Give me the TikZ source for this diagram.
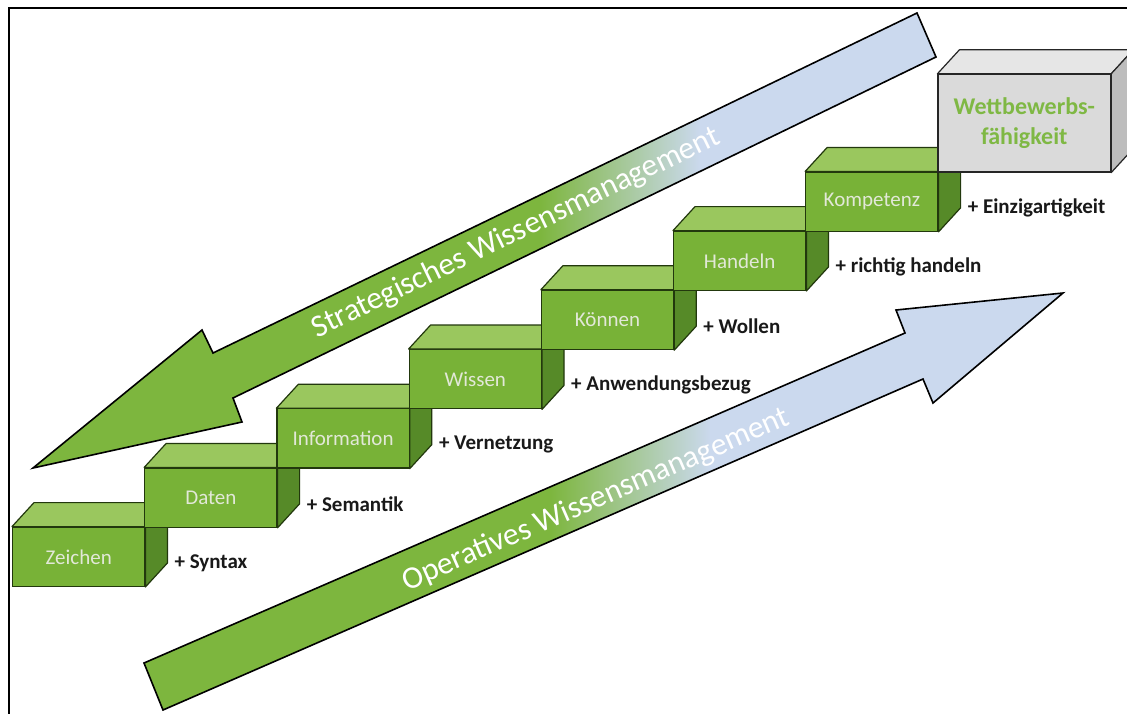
\documentclass[tikz,border=0pt]{standalone}
\usepackage{fontspec}
\setmainfont{Carlito}
\definecolor{frontgreen}{HTML}{78B237}
\definecolor{topgreen}{HTML}{9AC75E}
\definecolor{sidegreen}{HTML}{568A28}
\definecolor{edgegreen}{HTML}{22380D}
\definecolor{arrowgreen}{HTML}{7DB63E}
\definecolor{arrowblue}{HTML}{CBD9EE}
\definecolor{grayfront}{HTML}{DADADA}
\definecolor{graytop}{HTML}{E6E6E6}
\definecolor{grayside}{HTML}{BDBDBD}
\definecolor{steptext}{HTML}{E2E8D8}
\definecolor{goaltext}{HTML}{7FB844}
\begin{document}
\begin{tikzpicture}[x=1pt,y=-1pt,
  stepface/.style={draw=edgegreen,line width=1.2pt,fill=frontgreen,anchor=south west,
    minimum width=132.2,minimum height=59.2,inner sep=0pt,
    font=\fontsize{21}{25}\selectfont,text=steptext},
  steptop/.style={draw=edgegreen,line width=1.2pt,fill=topgreen,line join=round},
  stepside/.style={draw=edgegreen,line width=1.2pt,fill=sidegreen,line join=round},
  steplabel/.style={anchor=west,inner sep=0pt,font=\bfseries\fontsize{21}{25}\selectfont,text=black!90},
  arrowline/.style={draw=black,line width=1.6pt,line join=miter},
  arrowtext/.style={text=white,font=\fontsize{31.5}{36}\selectfont,inner sep=0pt}]
\useasboundingbox (0,0) rectangle (1127,713);
\clip (0,0) rectangle (1127,713);
\fill[white] (0,0) rectangle (1127,713);
\draw[line width=2pt] (9,8) rectangle (1140,730);

% strategic knowledge management: arrow pointing down-left
\coordinate (s1) at (917,13);
\coordinate (s2) at (936,57);
\coordinate (s3) at (233,398);
\coordinate (s4) at (242,422);
\coordinate (s5) at (33,468);
\coordinate (s6) at (202,330);
\coordinate (s7) at (213,353);
\begin{scope}
  \clip (s1)--(s2)--(s3)--(s4)--(s5)--(s6)--(s7)--cycle;
  \fill[arrowgreen] (0,0) rectangle (541,713);
  \shade[left color=arrowgreen,right color=arrowblue] (540,0) rectangle (701,713);
  \fill[arrowblue] (700,0) rectangle (1127,713);
\end{scope}
\draw[arrowline] (s1)--(s2)--(s3)--(s4)--(s5)--(s6)--(s7)--cycle;
\node[arrowtext,rotate=25.8] (stext) at (516,233) {Strategisches Wissensmanagement};

% operative knowledge management: arrow pointing up-right
\coordinate (o1) at (144,663);
\coordinate (o2) at (905,333);
\coordinate (o3) at (896,310);
\coordinate (o4) at (1063,293);
\coordinate (o5) at (933,403);
\coordinate (o6) at (923,379);
\coordinate (o7) at (163,710);
\begin{scope}
  \clip (o1)--(o2)--(o3)--(o4)--(o5)--(o6)--(o7)--cycle;
  \fill[arrowgreen] (0,0) rectangle (551,713);
  \shade[left color=arrowgreen,right color=arrowblue] (550,0) rectangle (711,713);
  \fill[arrowblue] (710,0) rectangle (1127,713);
\end{scope}
\draw[arrowline] (o1)--(o2)--(o3)--(o4)--(o5)--(o6)--(o7)--cycle;
\node[arrowtext,rotate=23.5] (otext) at (596,500) {Operatives Wissensmanagement};

% the staircase of green blocks
\foreach \i/\nm/\txt/\lab in {0/zeichen/Zeichen/+ Syntax,
    1/daten/Daten/+ Semantik,
    2/information/Information/+ Vernetzung,
    3/wissen/Wissen/+ Anwendungsbezug,
    4/koennen/Können/+ Wollen,
    5/handeln/Handeln/+ richtig handeln,
    6/kompetenz/Kompetenz/+ Einzigartigkeit}{
  \node[stepface] (\nm) at ({12+132.2*\i},{587-59.2*\i}) {\txt};
  \path[steptop] (\nm.north west) -- ++(22,-24) -- ([shift={(22,-24)}]\nm.north east) -- (\nm.north east) -- cycle;
  \path[stepside] (\nm.north east) -- ++(22,-24) -- ([shift={(22,-24)}]\nm.south east) -- (\nm.south east) -- cycle;
  \node[steplabel] (\nm-label) at ([shift={(29,-24)}]\nm.south east) {\lab};
}

% grey block on top
\node[draw=black!85,line width=1.2pt,fill=grayfront,anchor=south west,
  minimum width=172.6,minimum height=97.6,inner sep=0pt,align=center,
  font=\bfseries\fontsize{24}{30}\selectfont,text=goaltext] (goal) at (937.4,172.6) {Wettbewerbs-\\fähigkeit};
\path[draw=black!85,line width=1.2pt,fill=graytop,line join=round] (goal.north west) -- ++(22,-24) -- ([shift={(22,-24)}]goal.north east) -- (goal.north east) -- cycle;
\path[draw=black!85,line width=1.2pt,fill=grayside,line join=round] (goal.north east) -- ++(22,-24) -- ([shift={(22,-24)}]goal.south east) -- (goal.south east) -- cycle;
\end{tikzpicture}
\end{document}
